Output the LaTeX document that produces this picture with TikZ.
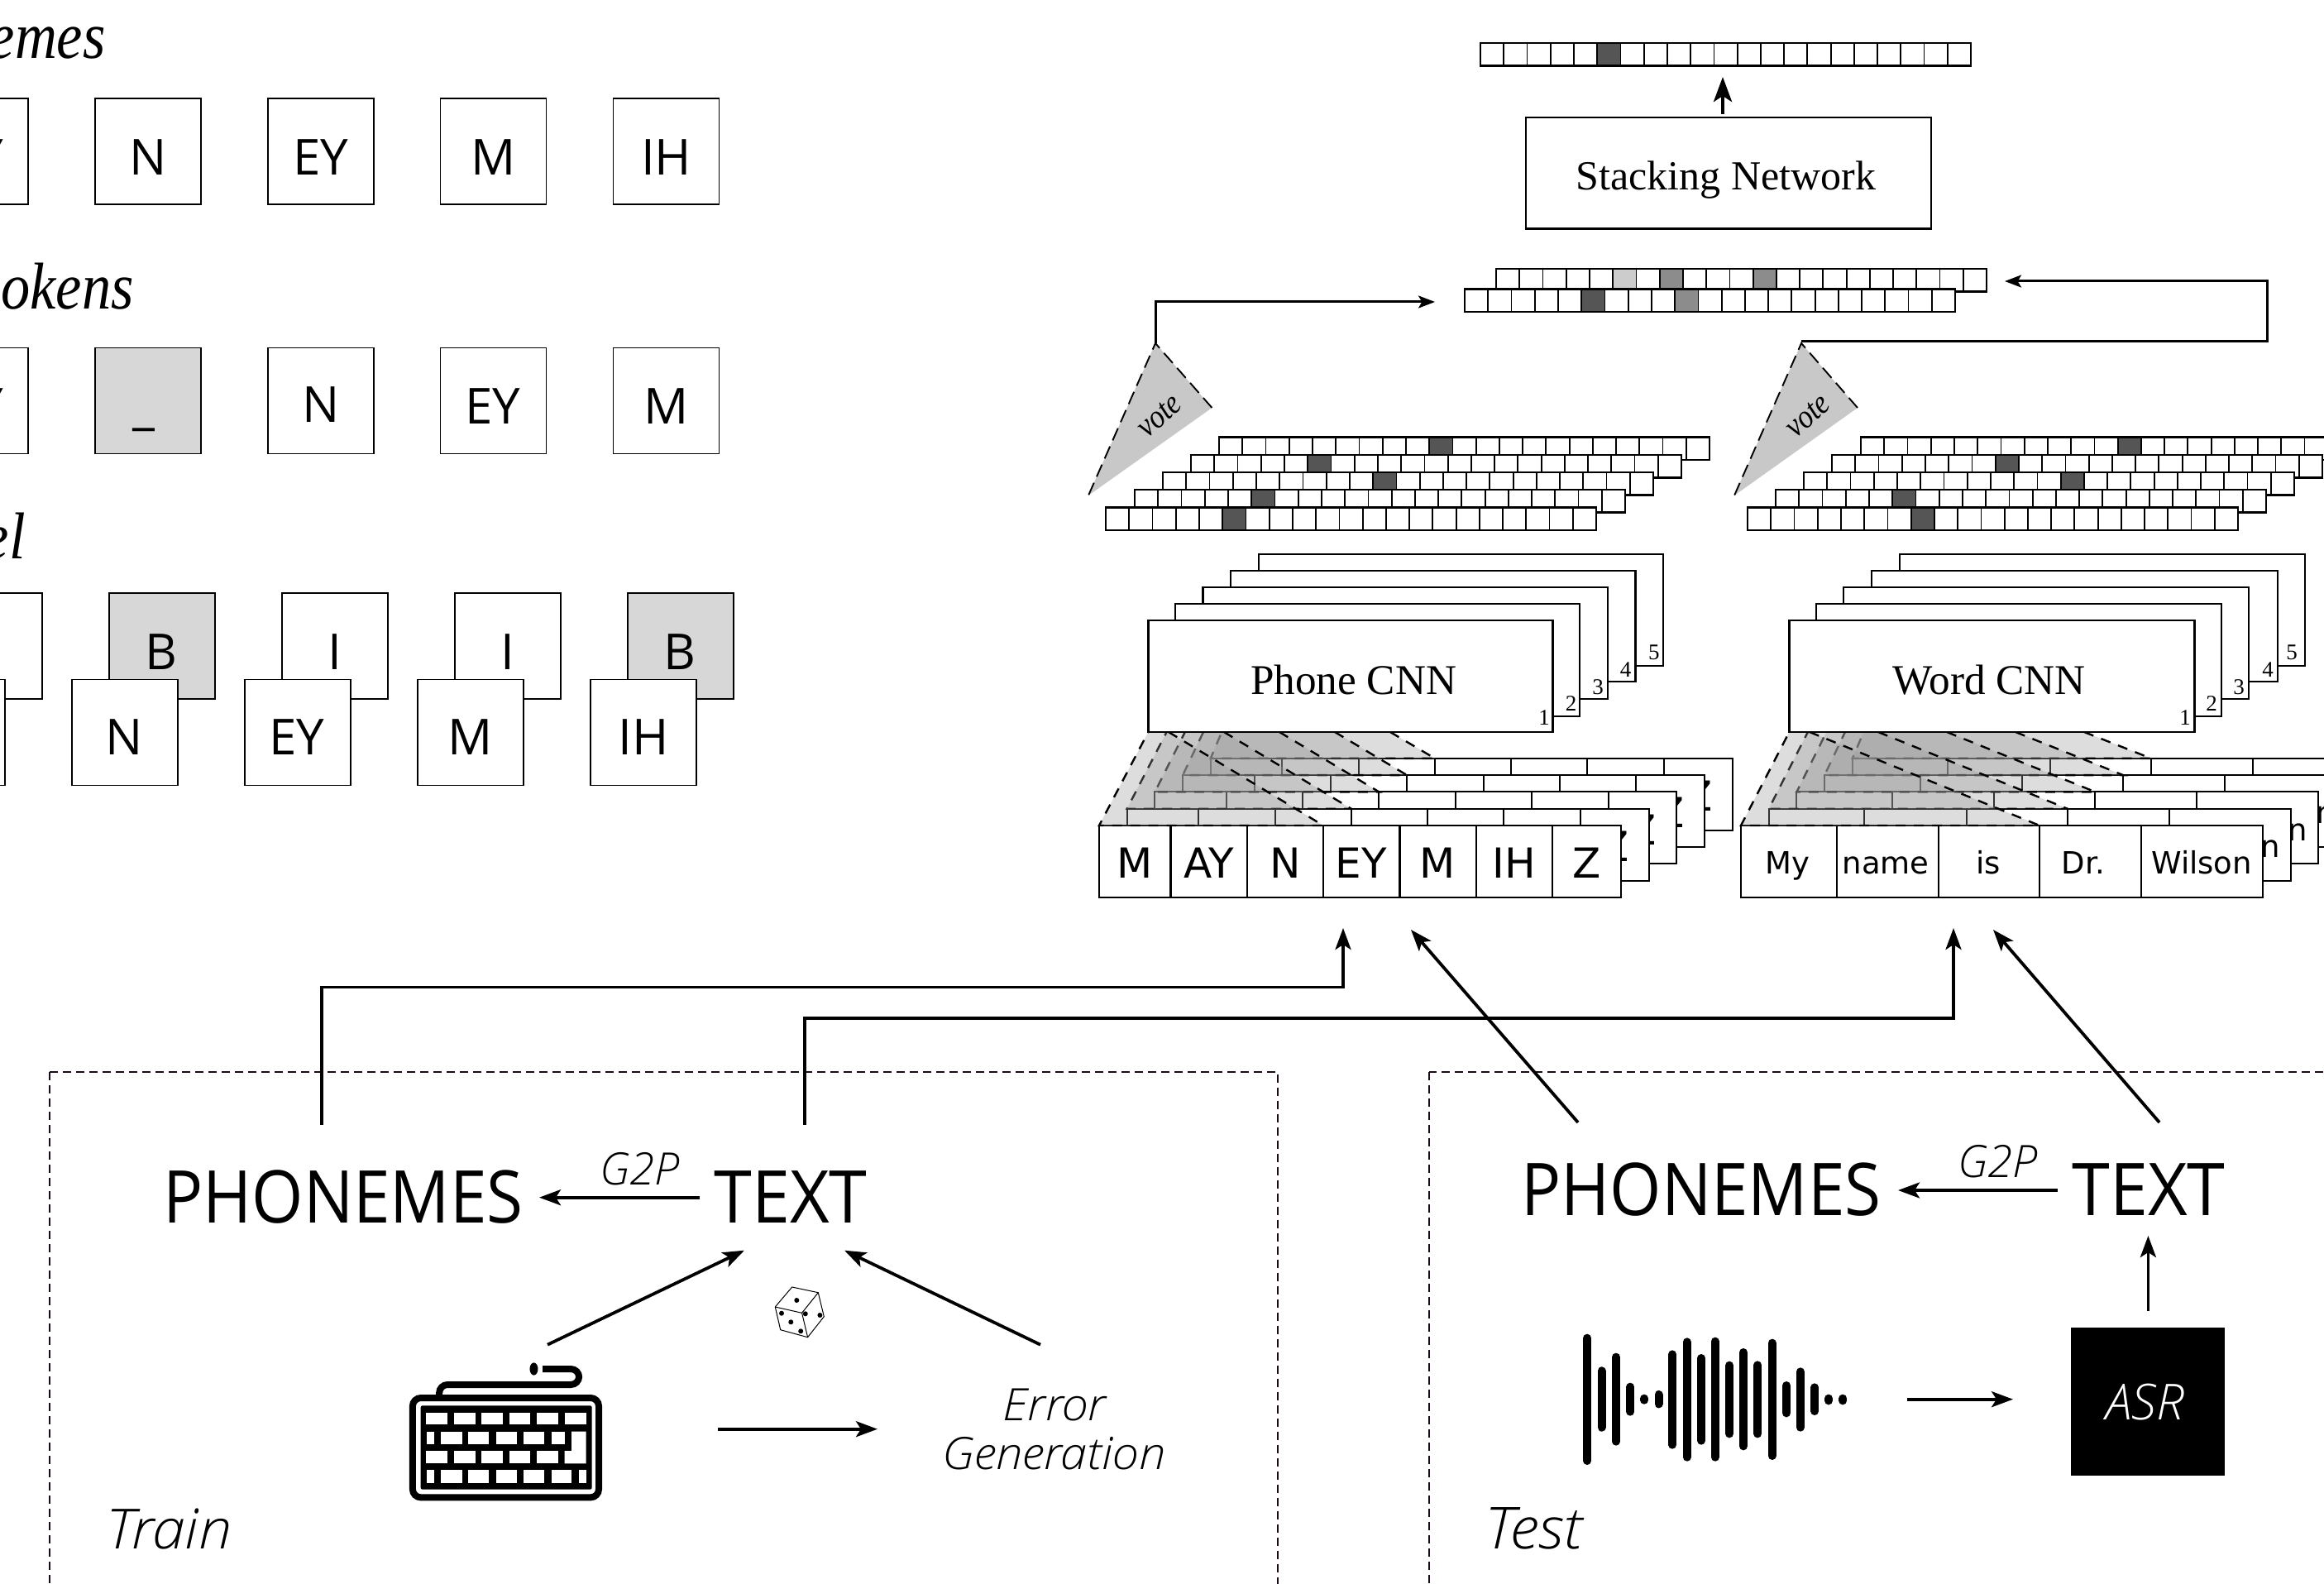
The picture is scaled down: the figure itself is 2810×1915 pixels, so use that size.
\documentclass[tikz,border=0pt]{standalone}
\usepackage{fontspec}
\usetikzlibrary{arrows.meta}
\setmainfont{Liberation Serif}
\newfontfamily\hdfont[FakeStretch=0.88]{Liberation Serif}
\newfontfamily\osf{Open Sans}
\newfontfamily\oslt{Open Sans Light}
\newfontfamily\osltw[FakeStretch=1.07]{Open Sans Light}
\newfontfamily\phfont[FakeStretch=0.91]{Open Sans}
\newfontfamily\txfont[FakeStretch=0.94]{Open Sans}
\newfontfamily\dvs{DejaVu Sans}
\newcommand{\fsz}[1]{\fontsize{#1}{#1}\selectfont}
\definecolor{dk}{HTML}{555555}
\definecolor{md}{HTML}{8C8C8C}
\definecolor{lt}{HTML}{CCCCCC}
\definecolor{tokgray}{HTML}{D7D7D7}
\definecolor{votegray}{HTML}{C8C8C8}
\definecolor{framecol}{HTML}{1A0A1A}
\tikzset{
  tokbox/.style={draw=black,line width=0.75pt,fill=white,minimum width=64pt,minimum height=64pt,inner sep=0pt,outer sep=0pt},
  toktxt/.style={anchor=base,inner sep=0pt,font=\osf\fsz{30}},
  headtxt/.style={anchor=base east,inner sep=0pt,font=\hdfont\itshape\fsz{40}},
  netbox/.style={draw=black,line width=1.15pt,fill=white,inner sep=0pt,outer sep=0pt},
  nettxt/.style={anchor=base,inner sep=0pt,font=\fsz{25.6}},
  numtxt/.style={inner sep=0pt,font=\fsz{13.5}},
  flow/.style={line width=1.9pt,-{Stealth[length=13pt,width=9.5pt,inset=3pt]}},
  flowthin/.style={line width=1.5pt,-{Stealth[length=10pt,width=7.5pt,inset=2.2pt]}},
  flowtop/.style={line width=2.2pt,-{Stealth[length=15pt,width=11pt,inset=3.5pt]}},
  bigph/.style={anchor=base,inner sep=0pt,font=\phfont\fsz{44}},
  bigtx/.style={anchor=base,inner sep=0pt,font=\txfont\fsz{44}},
  lighttxt/.style={anchor=base,inner sep=0pt},
  layerline/.style={line width=1.05pt,draw=black},
  votetri/.style={fill=votegray},
  votedash/.style={line width=0.95pt,dash pattern=on 8pt off 4pt},
  shadefill/.style={fill=black!40,fill opacity=0.33},
  shadedash/.style={line width=1.2pt,dash pattern=on 6pt off 5pt,draw=black},
  framedash/.style={line width=0.9pt,draw=framecol,dash pattern=on 5pt off 3pt},
}
\newcommand{\cellvec}[3]{%
  \fill[white] (#1,#2) rectangle ++(593,27.5);
  \foreach \i/\c in {#3} {\fill[\c] ({#1+\i*28.24},#2) rectangle ++(28.24,27.5);}
  \foreach \i in {1,...,20} {\draw[line width=0.9pt] ({#1+\i*28.24},#2) -- ++(0,27.5);}
  \draw[line width=1.15pt] (#1,#2) rectangle ++(593,27.5);
}
\newcommand{\phonelayer}[1]{%
  \begin{scope}[shift={({33.7*#1},{-20.3*#1})}]
    \draw[layerline,fill=white] (1329,998) rectangle (1960,1085);
    \foreach \d in {1415.5,1508,1600,1692.5,1784.6,1877.3} {\draw[layerline] (\d,998) -- (\d,1085);}
    \foreach \c/\t [count=\n] in {1372/M,1461.6/AY,1553.7/N,1645.9/EY,1738/M,1830.7/IH,1918.5/Z}
      {\node[anchor=base,inner sep=0pt,font=\dvs\fsz{25}] (ph#1c\n) at (\c,1061.7) {\t};}
  \end{scope}
  \fill[shadefill] ({1329+33.7*#1},{998-20.3*#1}) -- ({1600+33.7*#1},{998-20.3*#1}) -- ({1413+67*#1},885) -- ({1388.4+22.2*#1},885) -- cycle;
  \draw[shadedash] ({1413+67*#1},885) -- ({1600+33.7*#1},{998-20.3*#1}) -- ({1329+33.7*#1},{998-20.3*#1}) -- ({1388.4+22.2*#1},885);
}
\newcommand{\wordlayer}[1]{%
  \begin{scope}[shift={({33.7*#1},{-20.3*#1})}]
    \draw[layerline,fill=white] (2105,998) rectangle (2736,1085);
    \foreach \d in {2220.6,2344,2466,2589} {\draw[layerline] (\d,998) -- (\d,1085);}
    \foreach \c/\t [count=\n] in {2161.5/My,2280/name,2404/is,2519/Dr.,2662/Wilson}
      {\node[anchor=base,inner sep=0pt,font=\dvs\fsz{18.5}] (wd#1c\n) at (\c,1056.7) {\t};}
  \end{scope}
  \fill[shadefill] ({2105+33.7*#1},{998-20.3*#1}) -- ({2466+33.7*#1},{998-20.3*#1}) -- ({2188+83*#1},885) -- ({2163.4+22.5*#1},885) -- cycle;
  \draw[shadedash] ({2188+83*#1},885) -- ({2466+33.7*#1},{998-20.3*#1}) -- ({2105+33.7*#1},{998-20.3*#1}) -- ({2163.4+22.5*#1},885);
}
\begin{document}
\begin{tikzpicture}[x=0.5pt,y=-0.5pt]
\useasboundingbox (0,0) rectangle (2810,1915);
\clip (0,0) rectangle (2810,1915);

% ---- left column
\node[headtxt] (hone) at (128,71) {emes};
\node[headtxt] (htwo) at (162,374) {okens};
\node[headtxt] (hthree) at (31,675) {el};

\node[tokbox] (ra1) at (-30,183) {};
\node[tokbox] (ra2) at (178.8,183) {};
\node[tokbox] (ra3) at (387.8,183) {};
\node[tokbox] (ra4) at (596.7,183) {};
\node[tokbox] (ra5) at (805.7,183) {};
\node[toktxt] (tra1) at (-30,212) {AY};
\node[toktxt] (tra2) at (179,212) {N};
\node[toktxt] (tra3) at (387.5,212) {EY};
\node[toktxt] (tra4) at (597,212) {M};
\node[toktxt] (tra5) at (805.5,212) {IH};

\node[tokbox] (rb1) at (-30,484.5) {};
\node[tokbox,fill=tokgray] (rb2) at (178.8,484.5) {};
\node[tokbox] (rb3) at (387.8,484.5) {};
\node[tokbox] (rb4) at (596.7,484.5) {};
\node[tokbox] (rb5) at (805.7,484.5) {};
\node[toktxt] (trb1) at (-30,512.5) {AY};
\node[toktxt] (trb2) at (174,512) {\_};
\node[toktxt] (trb3) at (388.5,510) {N};
\node[toktxt] (trb4) at (596,512.5) {EY};
\node[toktxt] (trb5) at (806,512.5) {M};

\node[tokbox] (rc1) at (-13,781) {};
\node[tokbox,fill=tokgray] (rc2) at (196,781) {};
\node[tokbox] (rc3) at (405,781) {};
\node[tokbox] (rc4) at (614,781) {};
\node[tokbox,fill=tokgray] (rc5) at (823,781) {};
\node[toktxt] (trc2) at (195,809) {B};
\node[toktxt] (trc3) at (405,809) {I};
\node[toktxt] (trc4) at (614,809) {I};
\node[toktxt] (trc5) at (822,809) {B};
\node[tokbox] (rd1) at (-58,885.5) {};
\node[tokbox] (rd2) at (151,885.5) {};
\node[tokbox] (rd3) at (360,885.5) {};
\node[tokbox] (rd4) at (569,885.5) {};
\node[tokbox] (rd5) at (778,885.5) {};
\node[toktxt] (trd2) at (150.5,912) {N};
\node[toktxt] (trd3) at (359,912) {EY};
\node[toktxt] (trd4) at (569,912) {M};
\node[toktxt] (trd5) at (778,912) {IH};

% ---- output and stacking
\cellvec{1790}{52}{5/dk}
\node[netbox,minimum width=245pt,minimum height=67.25pt] (stack) at (2090,209.25) {};
\node[nettxt,font=\fsz{25}] (stacktxt) at (2087,230) {Stacking Network};
\coordinate (outtip) at (2083,93);
\coordinate (stacktop) at (2083,138);
\draw[flowtop] (stacktop) -- (outtip);

\cellvec{1809}{325}{5/lt,7/md,11/md}
\cellvec{1771}{349.5}{5/dk,9/md}

% ---- vote triangles
\coordinate (va) at (1397,415); \coordinate (vb) at (1465.4,493); \coordinate (vc) at (1316,599);
\fill[votetri] (va) -- (vb) -- (vc) -- cycle;
\draw[votedash] (vb) -- (va) -- (vc);
\node[inner sep=0pt,font=\hdfont\itshape\fsz{20},rotate=42] (voteL) at (1402,503) {vote};
\coordinate (wa) at (2178,415); \coordinate (wb) at (2246,493); \coordinate (wc) at (2097,599);
\fill[votetri] (wa) -- (wb) -- (wc) -- cycle;
\draw[votedash] (wb) -- (wa) -- (wc);
\node[inner sep=0pt,font=\hdfont\itshape\fsz{20},rotate=42] (voteR) at (2186,503) {vote};

\coordinate (vinL) at (1735,365);
\coordinate (vinR) at (2424,340);
\coordinate (vbendL) at (1397,365);
\coordinate (vbendR) at (2741,412.5);
\coordinate (vbendR2) at (2741,340);
\coordinate (vsR) at (2178,412.5);
\draw[flowthin] (va) -- (vbendL) -- (vinL);
\draw[flowthin] (vsR) -- (vbendR) -- (vbendR2) -- (vinR);

% ---- prediction stacks
\cellvec{1474}{528.6}{9/dk}
\cellvec{1440}{550}{5/dk}
\cellvec{1406}{571}{9/dk}
\cellvec{1372}{592}{5/dk}
\cellvec{1337}{613.5}{5/dk}
\cellvec{2250}{528.6}{11/dk}
\cellvec{2215}{550}{7/dk}
\cellvec{2181}{571}{11/dk}
\cellvec{2147}{592}{5/dk}
\cellvec{2113}{613.5}{7/dk}

% ---- input layers with receptive fields
\phonelayer{4}\phonelayer{3}\phonelayer{2}\phonelayer{1}\phonelayer{0}
\wordlayer{4}\wordlayer{3}\wordlayer{2}\wordlayer{1}\wordlayer{0}

% ---- CNN stacks
\draw[netbox,fill=white] (1521.7,670) rectangle (2011,805);
\draw[netbox,fill=white] (1488,690) rectangle (1977.6,824);
\draw[netbox,fill=white] (1454.5,710) rectangle (1944,845);
\draw[netbox,fill=white] (1421,730) rectangle (1910,865.7);
\node[netbox,minimum width=244.5pt,minimum height=67.5pt] (phcnn) at (1632.85,817.5) {};
\node[nettxt] (phcnntxt) at (1636.6,839) {Phone CNN};
\node[numtxt] (pn1) at (1867,868) {1};
\node[numtxt] (pn2) at (1899.5,850.7) {2};
\node[numtxt] (pn3) at (1932,830.7) {3};
\node[numtxt] (pn4) at (1965.6,810) {4};
\node[numtxt] (pn5) at (1999.8,789) {5};

\draw[netbox,fill=white] (2297,670) rectangle (2787,805);
\draw[netbox,fill=white] (2263,690) rectangle (2754,824);
\draw[netbox,fill=white] (2229,710) rectangle (2719,845);
\draw[netbox,fill=white] (2196,730) rectangle (2686,865.7);
\node[netbox,minimum width=245pt,minimum height=67.5pt] (wdcnn) at (2408.45,817.5) {};
\node[nettxt] (wdcnntxt) at (2405,839) {Word CNN};
\node[numtxt] (wn1) at (2642,868) {1};
\node[numtxt] (wn2) at (2674,850.7) {2};
\node[numtxt] (wn3) at (2707,830.7) {3};
\node[numtxt] (wn4) at (2742,810) {4};
\node[numtxt] (wn5) at (2771,789) {5};

% ---- frames
\draw[framedash] (60.3,1295.7) rectangle (1545,1960);
\draw[framedash] (1728,1295.7) rectangle (2860,1960);

% ---- train block
\node[bigph] (phonA) at (415,1478) {PHONEMES};
\node[bigtx] (textA) at (956,1478) {TEXT};
\node[lighttxt,font=\oslt\itshape\fsz{27}] (gtpA) at (773.5,1432) {G2P};
\coordinate (gA1) at (846,1447.7); \coordinate (gA2) at (652,1447.7);
\draw[flow] (gA1) -- (gA2);
\node[lighttxt,font=\osltw\itshape\fsz{27}] (errA) at (1275,1717) {Error};
\node[lighttxt,font=\osltw\itshape\fsz{27}] (errB) at (1274.6,1776) {Generation};
\node[lighttxt,font=\osltw\itshape\fsz{33.5},anchor=base west] (trainlbl) at (128,1872) {Train};

\coordinate (kbA) at (662,1625.7); \coordinate (tA1) at (900,1511.7);
\coordinate (egA) at (1258,1625.7); \coordinate (tA2) at (1021,1511.7);
\draw[flow] (kbA) -- (tA1);
\draw[flow] (egA) -- (tA2);
\coordinate (kbR) at (868,1727.7); \coordinate (egL) at (1061,1727.7);
\draw[flow] (kbR) -- (egL);

% dice
\draw[line width=0.5pt,fill=white] (957.7,1556) -- (989.3,1562.7) -- (996.3,1591.7) -- (976.6,1616.7) -- (943.7,1607.7) -- (937.3,1580) -- cycle;
\draw[line width=0.5pt] (937.3,1580) -- (969.6,1587.3) -- (976.6,1616.7);
\draw[line width=0.5pt] (969.6,1587.3) -- (989.3,1562.7);
\foreach \p/\q in {963.3/1572,973.8/1588.3,991.4/1590,945/1587.7,956.3/1598.3,968.2/1609.3}
  {\fill (\p,\q) circle (1.5pt);}

% keyboard
\begin{scope}[shift={(400,1480)},x=0.3507pt,y=-0.16667pt]
  \draw[line width=4pt,rounded corners=5pt] (141,630) rectangle (462,991);
  \fill[rounded corners=1pt] (155,658) rectangle (450,962);
  \foreach \a/\b in {164/201,213/249,260/296,308/344,355/392,403/440} {\fill[white] (\a,683) rectangle (\b,727);}
  \foreach \a/\b in {165/178,190/226,237/273,285/321,332/368,380/404} {\fill[white] (\a,752) rectangle (\b,798);}
  \foreach \a/\b in {164/201,213/249,260/296,308/344,355/392} {\fill[white] (\a,822) rectangle (\b,868);}
  \fill[white] (415,752) -- (440,752) -- (440,868) -- (403,868) -- (403,822) -- (415,822) -- cycle;
  \foreach \a/\b in {165/178,190/226,237/273,285/321,332/368,380/415,427/440} {\fill[white] (\a,892) rectangle (\b,938);}
  \draw[line width=4pt,rounded corners=5pt] (187,620) -- (187,582) -- (428,582) -- (428,525) -- (365,525);
  \fill (350,525) ellipse (2.5pt and 3.8pt);
\end{scope}

% ---- test block
\node[bigph] (phonB) at (2057,1469.3) {PHONEMES};
\node[bigtx] (textB) at (2598,1469.3) {TEXT};
\node[lighttxt,font=\oslt\itshape\fsz{27}] (gtpB) at (2415.5,1423) {G2P};
\coordinate (gB1) at (2488,1439); \coordinate (gB2) at (2295,1439);
\draw[flow] (gB1) -- (gB2);
\node[lighttxt,font=\osltw\itshape\fsz{35},anchor=base west] (testlbl) at (1795,1872) {Test};

\begin{scope}[shift={(1800,1480)},x=0.32206pt,y=-0.16667pt]
  \foreach \p/\t/\bm in {185/398/873,212/517/752,239/467/803,266/575/695,292/617/653,319/603/667,345/457/815,372/412/860,399/471/800,425/410/860,452/497/775,478/450/820,505/496/775,532/416/855,559/570/700,585/520/752,612/577/693,638/617/655,665/617/655}{
    \draw[line width=5pt,line cap=round] (\p,{\t+15}) -- (\p,{\bm-15});
  }
\end{scope}
\coordinate (wavR) at (2306,1691.7); \coordinate (asrL) at (2434,1691.7);
\draw[flow] (wavR) -- (asrL);
\node[fill=black,inner sep=0pt,minimum width=93pt,minimum height=89.5pt] (asr) at (2597,1694.5) {};
\node[lighttxt,font=\oslt\itshape\fsz{30},text=white] (asrtxt) at (2593.6,1716) {ASR};
\coordinate (asrT) at (2597.4,1585); \coordinate (txtB) at (2597.4,1494);
\draw[flow] (asrT) -- (txtB);

% ---- inputs to the stacks
\coordinate (pA) at (389,1360); \coordinate (pB) at (389,1193.5); \coordinate (pC) at (1624,1193.5); \coordinate (pD) at (1624,1122);
\draw[flow] (pA) -- (pB) -- (pC) -- (pD);
\coordinate (qA) at (973,1360); \coordinate (qB) at (973,1231); \coordinate (qC) at (2362,1231); \coordinate (qD) at (2362,1122);
\draw[flow] (qA) -- (qB) -- (qC) -- (qD);
\coordinate (rA) at (1908,1357); \coordinate (rB) at (1706,1124);
\draw[flow] (rA) -- (rB);
\coordinate (sA) at (2611,1357); \coordinate (sB) at (2410,1124);
\draw[flow] (sA) -- (sB);
\end{tikzpicture}
\end{document}
